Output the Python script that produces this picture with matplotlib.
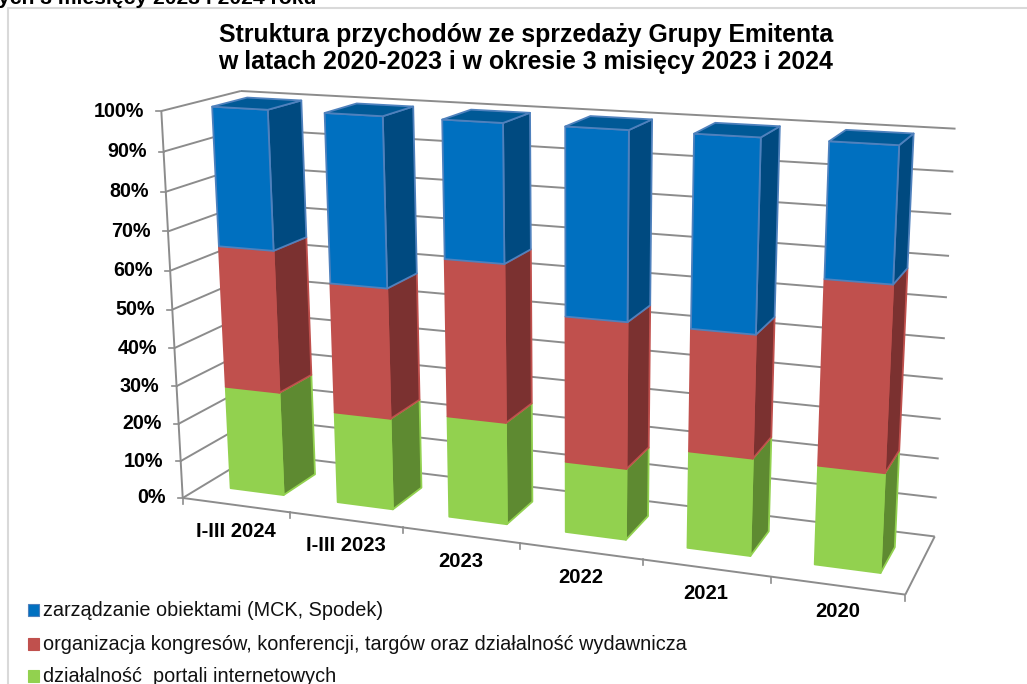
import matplotlib
matplotlib.use("Agg")
import matplotlib.pyplot as plt
from matplotlib.patches import Polygon
import numpy as np

plt.rcParams['font.family'] = ['Liberation Sans', 'DejaVu Sans']

# data (percent of the sales of each period)
categories = ['I-III 2024', 'I-III 2023', '2023', '2022', '2021', '2020']
portale = [27.6, 24.0, 26.3, 18.1, 24.3, 24.4]
kongresy = [37.0, 33.5, 39.8, 36.4, 30.0, 44.3]
obiekty = [35.4, 42.5, 33.9, 45.5, 45.7, 31.3]
y_ticks = [0, 10, 20, 30, 40, 50, 60, 70, 80, 90, 100]
legend_labels = ['zarządzanie obiektami (MCK, Spodek)',
                 'organizacja kongresów, konferencji, targów oraz działalność wydawnicza',
                 'działalność  portali internetowych']

title = 'Struktura przychodów ze sprzedaży Grupy Emitenta\nw latach 2020-2023 i w okresie 3 misięcy 2023 i 2024'
cut_text = 'ych 3 miesięcy 2023 i 2024 roku'

# colours: front, side, top, edge
blue = ('#0070c0', '#004a80', '#005996', '#4f81bd')
red = ('#c0504d', '#7b3130', '#7b3130', '#c0504d')
green = ('#92d14f', '#5e8a31', '#5e8a31', '#92d14f')
grid_col = '#8c8c8c'

# camera of the fake 3d chart: (category, percent, depth) -> pixel, fitted on the axes corners
cam_3d = np.array([[0, 0, 0], [0, 0, 1], [6, 0, 1], [6, 0, 0], [0, 100, 0], [0, 100, 1], [6, 100, 1],
                   [1, 0, 0], [2, 0, 0], [3, 0, 0], [4, 0, 0], [5, 0, 0], [0, 50, 0],
                   [0, 90, 0], [0, 80, 0], [0, 70, 0], [0, 60, 0], [0, 40, 0], [0, 30, 0],
                   [0, 20, 0], [0, 10, 0]], dtype=float)
cam_px = np.array([[183, 497], [258, 454], [934, 536], [905, 593], [162, 112], [240, 91], [956, 128],
                   [291, 513], [403, 528], [520, 545], [643, 561], [771, 577], [172, 309],
                   [164, 152], [166, 192], [168, 232], [170, 271], [174, 347], [176, 385],
                   [178, 423], [180, 460]], dtype=float)

rows = []
for (a, b, c), (u, v) in zip(cam_3d, cam_px):
    rows.append([a, b, c, 1, 0, 0, 0, 0, -u * a, -u * b, -u * c, -u])
    rows.append([0, 0, 0, 0, a, b, c, 1, -v * a, -v * b, -v * c, -v])
P = np.linalg.svd(np.array(rows))[2][-1].reshape(3, 4)


def project(x, y, z):
    u, v, w = P @ np.array([x, y, z, 1.0])
    return u / w, v / w


fig = plt.figure(figsize=(10.27, 6.84), dpi=100)
ax = fig.add_axes([0, 0, 1, 1])
ax.set_xlim(0, 1027)
ax.set_ylim(684, 0)
ax.axis('off')


def line3d(p0, p1, lw=1.4):
    a = project(*p0)
    b = project(*p1)
    ax.plot([a[0], b[0]], [a[1], b[1]], color=grid_col, lw=lw, solid_capstyle='butt', zorder=2)


def face(points, color, edge):
    ax.add_patch(Polygon([project(*p) for p in points], closed=True, facecolor=color,
                         edgecolor=edge, lw=1.3, joinstyle='round', zorder=3))


# frame of the embedded chart and the cut off line above it
ax.plot([8, 8, 1027], [684, 8, 8], color='#d9d9d9', lw=1.5, zorder=1)
ax.text(-2, 4, cut_text, fontsize=15.2, fontweight='bold', ha='left', va='baseline', color='black')

# walls
n = len(categories)
for t in y_ticks:
    line3d((0, t, 0), (0, t, 1))
    line3d((0, t, 1), (n, t, 1))
    a = project(0, t, 0)
    ax.plot([a[0] - 5, a[0]], [a[1], a[1]], color=grid_col, lw=1.2, zorder=2)
    ax.text(a[0] - 17, a[1], '%d%%' % t, fontsize=14.2, fontweight='bold', ha='right', va='center')
line3d((0, 100, 0), (0, 0, 0))
line3d((0, 0, 0), (n, 0, 0))
line3d((n, 0, 0), (n, 0, 1))
for i in range(n + 1):
    a = project(i, 0, 0)
    ax.plot([a[0], a[0]], [a[1], a[1] + 6], color=grid_col, lw=1.2, zorder=2)

# bars
bw = 0.25
z0, z1 = 0.28, 0.73
for i, name in enumerate(categories):
    x0, x1 = i + bw, i + 1 - bw
    base = 0
    for val, col in ((portale[i], green), (kongresy[i], red), (obiekty[i], blue)):
        top = base + val
        face([(x1, base, z0), (x1, base, z1), (x1, top, z1), (x1, top, z0)], col[1], col[3])
        face([(x0, base, z0), (x1, base, z0), (x1, top, z0), (x0, top, z0)], col[0], col[3])
        if col is blue:
            face([(x0, top, z0), (x1, top, z0), (x1, top, z1), (x0, top, z1)], col[2], col[3])
        base = top
    a = project(i + 0.5, 0, 0)
    ax.text(a[0], a[1] + 26, name, fontsize=14.6, fontweight='bold', ha='center', va='center')

ax.text(526, 48.5, title, fontsize=17.9, fontweight='bold', ha='center', va='center', linespacing=1.2)

# legend, written by hand because it sits on rows without a frame
legend_y = [610, 644, 676]
for label, col, ly in zip(legend_labels, (blue, red, green), legend_y):
    ax.add_patch(Polygon([(28, ly - 6), (39, ly - 6), (39, ly + 6), (28, ly + 6)], closed=True,
                         facecolor=col[0], edgecolor=col[3], lw=0.8, zorder=3))
    ax.text(43, ly + 1, label, fontsize=14.35, ha='left', va='center', color='#111111')

fig.savefig('out.png', dpi=100)
